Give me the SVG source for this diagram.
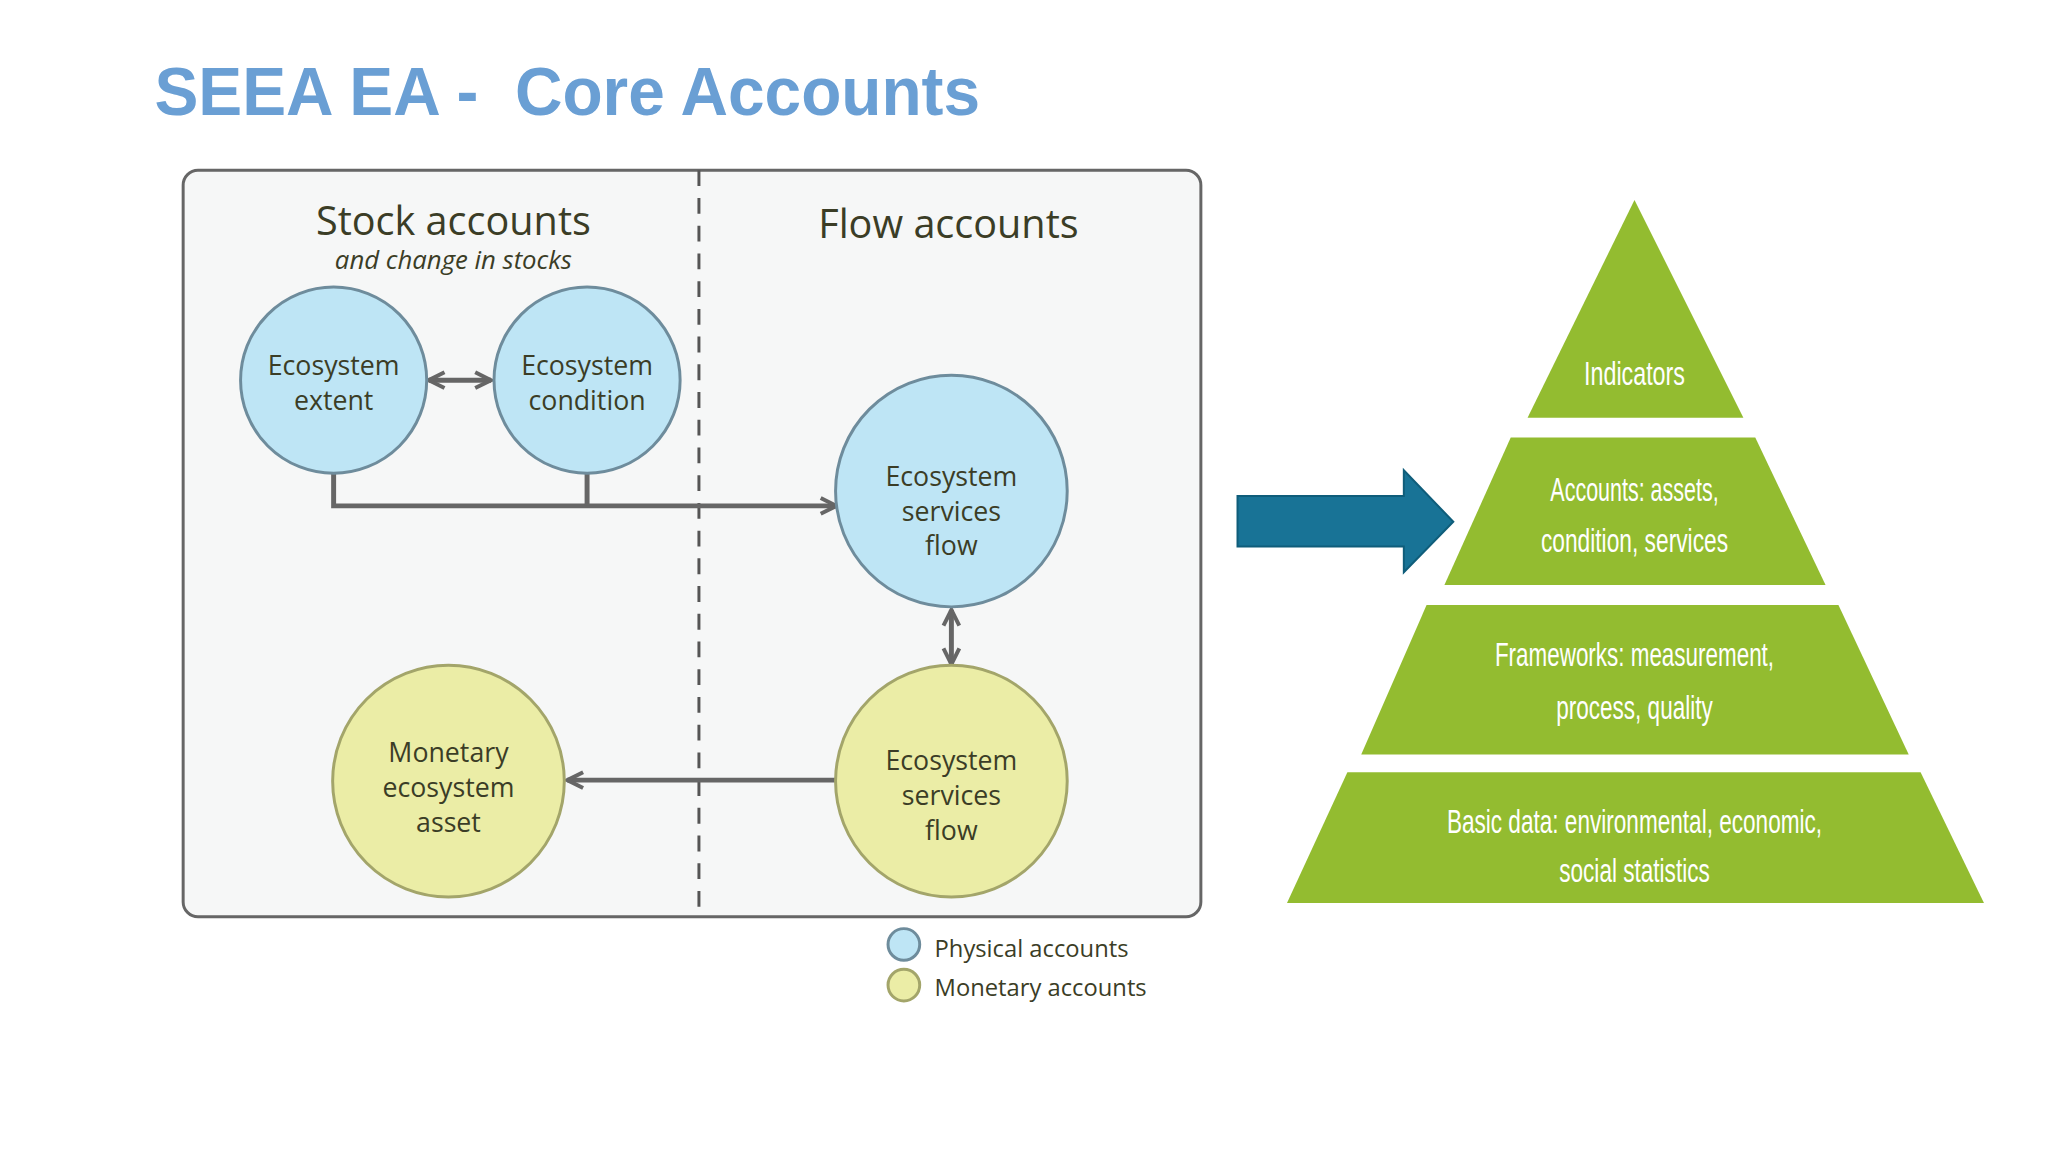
<svg xmlns="http://www.w3.org/2000/svg" width="2048" height="1152" viewBox="0 0 2048 1152">
<style>
.t{font-family:"Open Sans","Liberation Sans",sans-serif;fill:#3b3d26;text-anchor:middle}
.n{font-size:27px}
.b{fill:#bee5f5;stroke:#6e8c9c;stroke-width:3}
.y{fill:#ebeda6;stroke:#a3a56a;stroke-width:3}
.c{stroke:#666;stroke-width:5;fill:none}
.p{fill:#93bc30}
.w{font-family:"Liberation Sans",sans-serif;fill:#fff;font-size:34px;text-anchor:middle}
</style>
<defs>
<marker id="a" viewBox="0 0 10 10" refX="9" refY="5" markerWidth="4" markerHeight="4" orient="auto-start-reverse"><path d="M1 1L9 5L1 9" fill="none" stroke="#666" stroke-width="2"/></marker>
</defs>
<rect width="2048" height="1152" fill="#fff"/>
<g transform="scale(0.99)">
<text x="156" y="116" font-family="'Liberation Sans',sans-serif" font-weight="bold" font-size="70" fill="#6a9fd4" textLength="834" lengthAdjust="spacingAndGlyphs" xml:space="preserve">SEEA EA -  Core Accounts</text>
<rect x="185" y="172" width="1028" height="754" rx="15" fill="#f6f7f7" stroke="#666" stroke-width="3"/>
<line x1="706" y1="172" x2="706" y2="926" stroke="#555" stroke-width="3" stroke-dasharray="16,12"/>
<text class="t" x="458" y="237" font-size="40">Stock accounts</text>
<text class="t" x="458" y="272" font-size="26" font-style="italic">and change in stocks</text>
<text class="t" x="958" y="240" font-size="40">Flow accounts</text>
<g id="connectors">
<path class="c" d="M337 478V511H845" marker-end="url(#a)"/>
<path class="c" d="M593 478V511"/>
<path class="c" d="M433 384H496" marker-start="url(#a)" marker-end="url(#a)"/>
<path class="c" d="M961 616V671" marker-start="url(#a)" marker-end="url(#a)"/>
<path class="c" d="M844 788H573" marker-end="url(#a)"/>
</g>
<g id="extent"><circle class="b" cx="337" cy="384" r="94"/><text class="t n" x="337" y="379">Ecosystem</text><text class="t n" x="337" y="414">extent</text></g>
<g id="condition"><circle class="b" cx="593" cy="384" r="94"/><text class="t n" x="593" y="379">Ecosystem</text><text class="t n" x="593" y="414">condition</text></g>
<g id="flowPhys"><circle class="b" cx="961" cy="496" r="117"/><text class="t n" x="961" y="491">Ecosystem</text><text class="t n" x="961" y="526">services</text><text class="t n" x="961" y="561">flow</text></g>
<g id="flowMon"><circle class="y" cx="961" cy="789" r="117"/><text class="t n" x="961" y="778">Ecosystem</text><text class="t n" x="961" y="813">services</text><text class="t n" x="961" y="848">flow</text></g>
<g id="asset"><circle class="y" cx="453" cy="789" r="117"/><text class="t n" x="453" y="770">Monetary</text><text class="t n" x="453" y="805">ecosystem</text><text class="t n" x="453" y="840">asset</text></g>
<g id="legend">
<circle class="b" cx="913" cy="954" r="16"/><circle class="y" cx="913" cy="995" r="16"/>
<text class="t" x="944" y="967" font-size="24" style="text-anchor:start">Physical accounts</text>
<text class="t" x="944" y="1006" font-size="24" style="text-anchor:start">Monetary accounts</text>
</g>
<g id="arrow"><path d="M1250 501H1418V475L1468 527L1418 578V552H1250Z" fill="#187396" stroke="#0f5d7a" stroke-width="2"/></g>
<g id="pyramid">
<path class="p" d="M1651 202L1761 422H1543Z"/>
<path class="p" d="M1526 442H1773L1844 591H1459Z"/>
<path class="p" d="M1441 611H1857L1928 762H1375Z"/>
<path class="p" d="M1361 780H1940L2004 912H1300Z"/>
<text class="w" x="1651" y="389" textLength="102" lengthAdjust="spacingAndGlyphs">Indicators</text>
<text class="w" x="1651" y="506" textLength="170" lengthAdjust="spacingAndGlyphs">Accounts: assets,</text>
<text class="w" x="1651" y="558" textLength="189" lengthAdjust="spacingAndGlyphs">condition, services</text>
<text class="w" x="1651" y="673" textLength="282" lengthAdjust="spacingAndGlyphs">Frameworks: measurement,</text>
<text class="w" x="1651" y="726" textLength="158" lengthAdjust="spacingAndGlyphs">process, quality</text>
<text class="w" x="1651" y="841" textLength="379" lengthAdjust="spacingAndGlyphs">Basic data: environmental, economic,</text>
<text class="w" x="1651" y="891" textLength="152" lengthAdjust="spacingAndGlyphs">social statistics</text>
</g>
</g>
</svg>
